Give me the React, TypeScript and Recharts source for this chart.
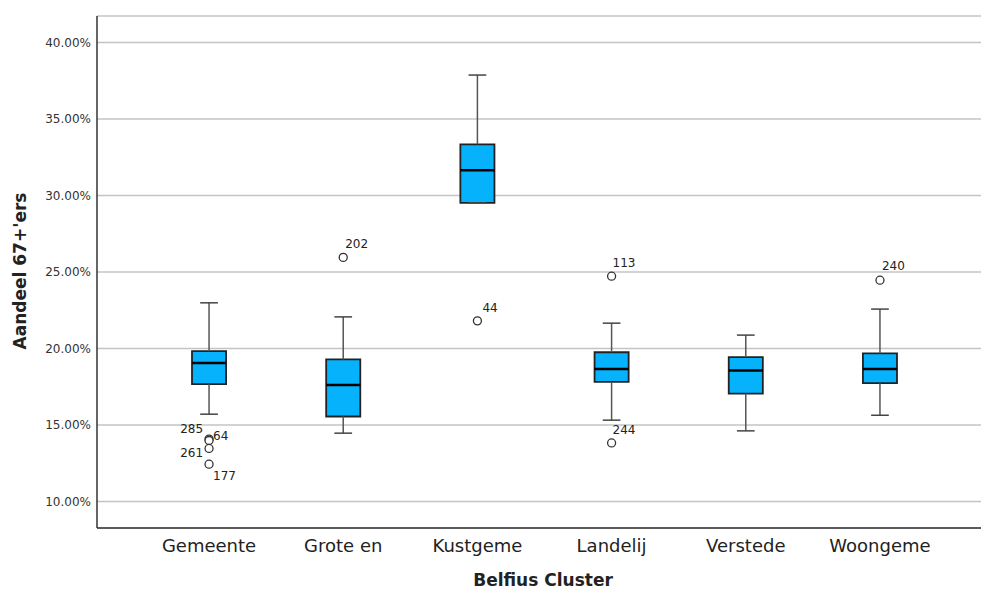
import { ComposedChart, XAxis, YAxis, CartesianGrid, ReferenceArea, ReferenceLine, Scatter } from 'recharts'

const categories = ['Gemeente', 'Grote en', 'Kustgeme', 'Landelij', 'Verstede', 'Woongeme']

// box plot statistics per cluster (in %)
const whiskerHigh = [22.99, 22.07, 37.88, 21.66, 20.88, 22.58]
const q3 = [19.83, 19.29, 33.35, 19.76, 19.44, 19.68]
const median = [19.05, 17.61, 31.65, 18.67, 18.57, 18.67]
const q1 = [17.67, 15.56, 29.53, 17.82, 17.06, 17.74]
const whiskerLow = [15.71, 14.47, 29.53, 15.32, 14.62, 15.64]

// outliers: which cluster, value, case label
const outlierGroup = [0, 0, 0, 0, 1, 2, 3, 3, 5]
const outlierValue = [14.08, 13.99, 13.47, 12.44, 25.96, 21.81, 24.73, 13.83, 24.47]
const outlierId = ['285', '64', '261', '177', '202', '44', '113', '244', '240']

const yTicks = [10, 15, 20, 25, 30, 35, 40]

const outliers = outlierValue.map((v, i) => ({ x: outlierGroup[i], y: v, id: outlierId[i] }))

// where SPSS put each case label relative to its circle
const LABEL_POS: Record<string, { dx: number; dy: number; anchor: 'start' | 'end' }> = {
    '285': { dx: -6, dy: -6, anchor: 'end' },
    '64': { dx: 4, dy: 0, anchor: 'start' },
    '261': { dx: -6, dy: 9, anchor: 'end' },
    '177': { dx: 4, dy: 16, anchor: 'start' },
    '202': { dx: 2, dy: -9, anchor: 'start' },
    '44': { dx: 5, dy: -9, anchor: 'start' },
    '113': { dx: 1, dy: -9, anchor: 'start' },
    '244': { dx: 1, dy: -9, anchor: 'start' },
    '240': { dx: 2, dy: -10, anchor: 'start' },
}

const BOX_HALF = 0.127
const CAP_HALF = 0.066
const BLUE = '#06B2FC'
const FONT = '"DejaVu Sans", sans-serif'

function OutlierDot(props: any) {
    const { cx, cy, payload } = props
    const pos = LABEL_POS[payload.id] ?? { dx: 4, dy: -8, anchor: 'start' }
    return (
        <g>
            <circle cx={cx} cy={cy} r={4} fill="#fff" stroke="#333" strokeWidth={1.3} />
            <text x={cx + pos.dx} y={cy + pos.dy} textAnchor={pos.anchor} fontSize={12} fill="#222" fontFamily={FONT}>
                {payload.id}
            </text>
        </g>
    )
}

export default function App() {
    return (
        <div style={{ position: 'absolute', left: 0, top: 0, background: '#fff' }}>
            <ComposedChart
                width={981}
                height={589}
                margin={{ top: 16, right: 0, bottom: 0, left: 0 }}
                style={{ fontFamily: FONT }}
            >
                <CartesianGrid vertical={false} stroke="#c4c4c4" strokeWidth={1.5} />
                <XAxis
                    type="number"
                    dataKey="x"
                    domain={[-0.835, 5.753]}
                    allowDataOverflow
                    ticks={[0, 1, 2, 3, 4, 5]}
                    tickFormatter={(v: number) => categories[v] ?? ''}
                    tick={{ fontSize: 18, fill: '#222' }}
                    tickLine={false}
                    tickSize={0}
                    tickMargin={11}
                    axisLine={{ stroke: '#333', strokeWidth: 1.5 }}
                    height={61}
                    label={{
                        value: 'Belfius Cluster',
                        position: 'insideBottom',
                        offset: 3,
                        dx: 4,
                        style: { fontSize: 17, fontWeight: 'bold', fill: '#222' },
                    }}
                />
                <YAxis
                    type="number"
                    domain={[8.27, 41.74]}
                    allowDataOverflow
                    ticks={yTicks}
                    tickFormatter={(v: number) => v.toFixed(2) + '%'}
                    tick={{ fontSize: 12, fill: '#333' }}
                    tickLine={false}
                    tickSize={0}
                    tickMargin={6}
                    axisLine={{ stroke: '#333', strokeWidth: 1.5 }}
                    width={97}
                />
                {categories.map((c, i) => (
                    <ReferenceLine
                        key={'wh' + c}
                        segment={[{ x: i, y: q3[i] }, { x: i, y: whiskerHigh[i] }]}
                        stroke="#555"
                        strokeWidth={1.5}
                    />
                ))}
                {categories.map((c, i) => (
                    <ReferenceLine
                        key={'wl' + c}
                        segment={[{ x: i, y: q1[i] }, { x: i, y: whiskerLow[i] }]}
                        stroke="#555"
                        strokeWidth={1.5}
                    />
                ))}
                {categories.map((c, i) => (
                    <ReferenceLine
                        key={'ch' + c}
                        segment={[{ x: i - CAP_HALF, y: whiskerHigh[i] }, { x: i + CAP_HALF, y: whiskerHigh[i] }]}
                        stroke="#444"
                        strokeWidth={1.5}
                    />
                ))}
                {categories.map((c, i) => (
                    <ReferenceLine
                        key={'cl' + c}
                        segment={[{ x: i - CAP_HALF, y: whiskerLow[i] }, { x: i + CAP_HALF, y: whiskerLow[i] }]}
                        stroke="#444"
                        strokeWidth={1.5}
                    />
                ))}
                {categories.map((c, i) => (
                    <ReferenceArea
                        key={'box' + c}
                        x1={i - BOX_HALF}
                        x2={i + BOX_HALF}
                        y1={q1[i]}
                        y2={q3[i]}
                        fill={BLUE}
                        fillOpacity={1}
                        stroke="#222"
                        strokeWidth={1.8}
                    />
                ))}
                {categories.map((c, i) => (
                    <ReferenceLine
                        key={'md' + c}
                        segment={[{ x: i - BOX_HALF, y: median[i] }, { x: i + BOX_HALF, y: median[i] }]}
                        stroke="#000"
                        strokeWidth={2.5}
                    />
                ))}
                <Scatter data={outliers} dataKey="y" shape={OutlierDot} isAnimationActive={false} />
                <text
                    x={20}
                    y={271}
                    transform="rotate(-90 20 271)"
                    textAnchor="middle"
                    dominantBaseline="central"
                    fontSize={17}
                    fontWeight="bold"
                    fill="#222"
                    fontFamily={FONT}
                >
                    Aandeel 67+'ers
                </text>
            </ComposedChart>
        </div>
    )
}
